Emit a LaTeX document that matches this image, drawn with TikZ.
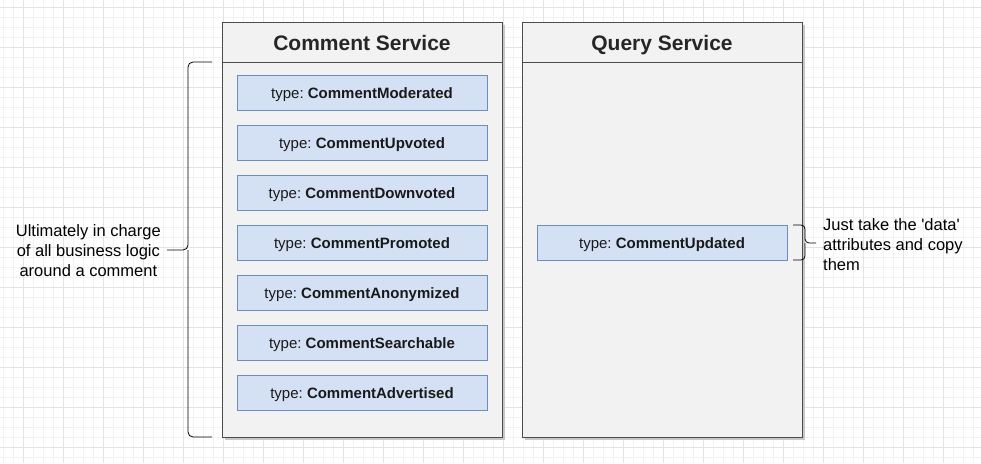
\documentclass[tikz,border=0pt]{standalone}
\usepackage{fontspec}
\setmainfont{Liberation Sans}[Ligatures=TeXOff]
\definecolor{evfill}{HTML}{D4E1F5}
\definecolor{evdraw}{HTML}{6C8EBF}
\definecolor{svfill}{HTML}{F3F2F3}
\begin{document}
\begin{tikzpicture}[x=1pt,y=-1pt,
  svc/.style={draw=black!70, fill=svfill, line width=0.8pt},
  evt/.style={draw=evdraw, fill=evfill, line width=0.6pt, minimum width=250pt, minimum height=35pt, inner sep=0pt, text height=14pt, text depth=2pt, font=\fontsize{15}{18}\selectfont, text=black!90},
  title/.style={font=\fontsize{21}{24}\selectfont\bfseries, text=black!85, text height=15pt, text depth=0pt},
  note/.style={font=\fontsize{16.5}{20}\selectfont, text=black, inner sep=0pt},
  brace/.style={draw=black, line width=0.8pt, rounded corners=5pt}
]
\useasboundingbox (0,0) rectangle (981,463);
% grid
\foreach \x in {3,13,...,981} \draw[black!5, line width=0.5pt] (\x,0) -- (\x,463);
\foreach \y in {7,17,...,463} \draw[black!5, line width=0.5pt] (0,\y) -- (981,\y);
\foreach \x in {23,63,...,981} \draw[black!11, line width=0.6pt] (\x,0) -- (\x,463);
\foreach \y in {7,47,...,463} \draw[black!11, line width=0.6pt] (0,\y) -- (981,\y);
% shadows
\fill[black!22] (225,25) rectangle (505,440);
\fill[black!22] (525,25) rectangle (805,440);
% service boxes
\draw[svc] (222,22) rectangle (502,437);
\draw[svc] (222,62) -- (502,62);
\node[title] (cs) at (362,42.5) {Comment Service};
\draw[svc] (522,22) rectangle (802,437);
\draw[svc] (522,62) -- (802,62);
\node[title] (qs) at (662,42.5) {Query Service};
% events
\node[evt] (e1) at (362,92.5) {type:~\textbf{CommentModerated}};
\node[evt] (e2) at (362,142.5) {type:~\textbf{CommentUpvoted}};
\node[evt] (e3) at (362,192.5) {type:~\textbf{CommentDownvoted}};
\node[evt] (e4) at (362,242.5) {type:~\textbf{CommentPromoted}};
\node[evt] (e5) at (362,292.5) {type:~\textbf{CommentAnonymized}};
\node[evt] (e6) at (362,342.5) {type:~\textbf{CommentSearchable}};
\node[evt] (e7) at (362,392.5) {type:~\textbf{CommentAdvertised}};
\node[evt] (u1) at (662,242.5) {type:~\textbf{CommentUpdated}};
% left brace
\coordinate (lt) at (212,62);
\coordinate (lb) at (212,437);
\coordinate (lm) at (167,250);
\draw[brace] (lt) -- (188,62) -- (188,250) -- (lm);
\draw[brace] (lb) -- (188,437) -- (188,250);
\node[note, align=center, anchor=east] (ln) at (161,251) {Ultimately in charge\\of all business logic\\around a comment};
% right brace
\coordinate (rt) at (793,225);
\coordinate (rb) at (793,260);
\coordinate (rm) at (816,243);
\draw[brace, rounded corners=4pt] (rt) -- (805,225) -- (805,243) -- (rm);
\draw[brace, rounded corners=4pt] (rb) -- (805,260) -- (805,243);
\node[note, align=left, anchor=west] (rn) at (823,245) {Just take the 'data'\\attributes and copy\\them};
\end{tikzpicture}
\end{document}
